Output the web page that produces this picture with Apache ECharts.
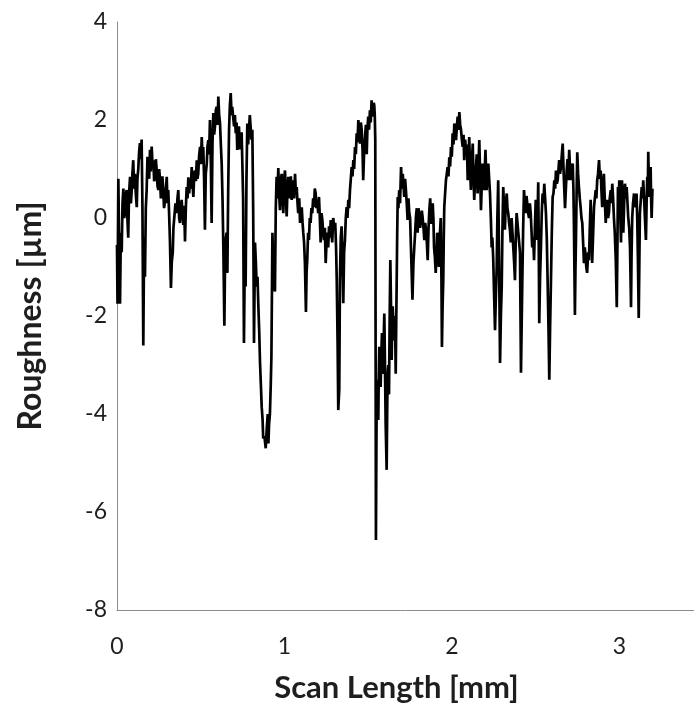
<!DOCTYPE html>
<html>
<head>
<meta charset="utf-8">
<script src="https://cdn.jsdelivr.net/npm/echarts@6.0.0/dist/echarts.min.js"></script>
<style>
  html, body { margin: 0; padding: 0; background: #ffffff; }
  #chart { width: 694px; height: 713px; }
</style>
</head>
<body>
<div id="chart"></div>
<script>
// Surface profile: [scan length (mm), roughness (µm)], split into stretches along the scan
const profile0to05 = [
  [0.000,-0.55],[0.003,-1.75],[0.008,0.80],[0.013,-0.60],[0.018,-1.75],[0.023,-0.30],[0.028,-0.70],[0.033,0.30],
  [0.038,0.60],[0.043,0.00],[0.048,0.10],[0.053,0.50],[0.058,0.57],[0.062,0.00],[0.067,-0.40],[0.072,0.50],
  [0.078,0.84],[0.083,0.30],[0.088,0.57],[0.092,0.90],[0.097,1.18],[0.102,0.60],[0.107,0.90],[0.112,0.50],
  [0.118,0.22],[0.122,0.80],[0.127,1.00],[0.132,1.35],[0.137,1.53],[0.142,1.20],[0.147,1.60],[0.152,0.20],
  [0.157,-2.60],[0.162,-0.40],[0.167,-1.20],[0.172,0.20],[0.177,0.57],[0.182,1.25],[0.187,1.06],[0.192,0.80],
  [0.197,1.39],[0.202,0.95],[0.207,1.46],[0.212,1.10],[0.217,1.18],[0.222,0.75],[0.227,0.84],[0.232,1.20],
  [0.237,0.97],[0.242,0.65],[0.247,0.57],[0.252,1.00],[0.257,0.77],[0.262,0.40],[0.267,0.43],[0.271,0.85],
  [0.276,0.57],[0.281,0.20],[0.287,0.37],[0.292,0.60],[0.297,0.84],[0.301,0.30],[0.306,0.57],[0.311,0.10],
  [0.316,-0.45],[0.322,-1.43],[0.327,-0.90],[0.333,-0.70],[0.337,-0.20],[0.342,-0.22],[0.349,0.30],[0.356,0.10],
  [0.361,0.40],[0.366,0.57],[0.371,0.00],[0.376,-0.10],[0.381,0.20],[0.386,0.37],[0.391,0.10],[0.396,-0.14],
  [0.401,0.25],[0.406,-0.48],[0.411,0.20],[0.416,0.63],[0.421,0.40],[0.426,0.83],[0.431,0.50],[0.436,0.77],
  [0.441,0.60],[0.446,1.04],[0.451,0.70],[0.456,0.43],[0.461,0.90],[0.466,0.97],[0.471,0.75],[0.476,1.18],
  [0.480,0.80],[0.485,0.90],[0.490,1.25]
];
const profile05to10 = [
  [0.496,1.45],[0.501,1.10],[0.506,1.65],[0.510,1.30],[0.515,1.45],[0.520,0.80],[0.525,-0.24],[0.530,0.90],
  [0.536,1.11],[0.540,1.45],[0.545,1.59],[0.550,1.30],[0.555,2.00],[0.560,1.20],[0.565,-0.10],[0.570,1.50],
  [0.575,2.14],[0.580,1.70],[0.585,1.87],[0.590,2.20],[0.595,2.27],[0.600,1.90],[0.605,2.48],[0.610,2.10],
  [0.615,1.94],[0.620,1.50],[0.625,1.11],[0.630,0.40],[0.635,-0.60],[0.641,-2.20],[0.645,-0.90],[0.649,-0.45],
  [0.654,-0.30],[0.659,-1.12],[0.664,0.60],[0.669,1.80],[0.674,2.30],[0.679,2.55],[0.684,2.10],[0.688,2.27],
  [0.694,2.05],[0.699,1.87],[0.704,2.10],[0.709,1.73],[0.714,1.95],[0.718,1.39],[0.723,1.60],[0.728,1.87],
  [0.734,1.40],[0.739,1.59],[0.744,1.75],[0.748,1.18],[0.753,0.40],[0.758,-2.55],[0.763,-0.80],[0.768,-1.40],
  [0.773,0.80],[0.778,1.93],[0.783,1.50],[0.788,1.80],[0.793,2.10],[0.798,2.07],[0.803,1.60],[0.808,1.80],
  [0.813,0.20],[0.818,-2.55],[0.824,-0.50],[0.829,-0.90],[0.834,-1.40],[0.839,-1.20],[0.844,-1.80],[0.849,-2.30],
  [0.854,-2.96],[0.859,-3.40],[0.864,-3.86],[0.869,-4.10],[0.873,-4.50],[0.880,-4.45],[0.888,-4.70],[0.894,-4.30],
  [0.900,-4.00],[0.904,-4.60],[0.908,-4.20],[0.913,-4.00],[0.918,-3.40],[0.922,-2.80],[0.928,-0.30],[0.934,-1.27],
  [0.943,-1.50],[0.948,0.20],[0.953,0.84],[0.958,0.40],[0.963,1.02],[0.968,0.50],[0.973,0.16],[0.978,0.75],
  [0.983,0.90],[0.988,0.40],[0.993,0.10],[0.998,0.80]
];
const profile10to15 = [
  [1.003,0.97],[1.008,0.50],[1.013,0.03],[1.018,0.60],[1.023,0.84],[1.028,0.40],[1.033,0.57],[1.038,0.85],
  [1.043,0.37],[1.048,0.55],[1.052,0.77],[1.058,0.40],[1.063,0.90],[1.068,0.50],[1.073,0.63],[1.078,0.30],
  [1.082,0.10],[1.088,0.40],[1.093,-0.10],[1.098,0.10],[1.103,0.22],[1.108,-0.10],[1.112,-0.30],[1.117,-0.50],
  [1.122,-0.92],[1.128,-1.92],[1.132,-1.10],[1.136,-0.85],[1.141,-0.30],[1.146,-0.45],[1.151,0.00],[1.156,-0.10],
  [1.161,0.20],[1.166,0.10],[1.171,0.40],[1.176,0.22],[1.181,0.60],[1.186,0.50],[1.191,0.20],[1.196,0.37],
  [1.201,0.10],[1.206,0.43],[1.211,0.00],[1.216,-0.50],[1.221,0.10],[1.226,-0.04],[1.231,-0.30],[1.236,-0.45],
  [1.241,-0.20],[1.246,-0.92],[1.251,-0.50],[1.256,-0.30],[1.261,-0.60],[1.266,-0.17],[1.271,-0.40],[1.276,-0.04],
  [1.281,-0.30],[1.285,-0.50],[1.291,0.00],[1.296,-0.17],[1.303,-0.10],[1.308,-0.60],[1.312,-1.27],[1.317,-2.50],
  [1.321,-3.92],[1.327,-3.50],[1.331,-1.27],[1.336,-0.40],[1.341,-0.17],[1.346,-0.80],[1.351,-1.74],[1.356,-0.70],
  [1.361,-0.45],[1.366,0.00],[1.371,0.22],[1.376,0.00],[1.381,0.37],[1.386,0.20],[1.391,0.57],[1.396,0.80],
  [1.401,1.04],[1.406,0.85],[1.411,1.18],[1.416,1.00],[1.421,1.45],[1.426,1.30],[1.431,1.73],[1.436,1.55],
  [1.441,2.00],[1.446,1.70],[1.451,1.52],[1.456,1.95],[1.461,1.80],[1.466,1.40],[1.470,0.77],[1.475,1.30],
  [1.481,1.65],[1.486,1.90],[1.491,1.30],[1.495,1.80]
];
const profile15to20 = [
  [1.500,2.07],[1.505,1.80],[1.510,2.20],[1.515,1.95],[1.520,2.40],[1.525,2.15],[1.530,2.07],[1.533,2.35],
  [1.536,2.30],[1.539,2.10],[1.542,1.60],[1.546,-6.57],[1.549,-4.50],[1.552,-3.30],[1.556,-3.80],[1.560,-4.12],
  [1.563,-3.20],[1.566,-2.63],[1.570,-3.10],[1.574,-3.45],[1.578,-2.80],[1.582,-2.35],[1.586,-2.90],[1.590,-3.18],
  [1.593,-2.40],[1.596,-1.95],[1.600,-3.00],[1.604,-4.20],[1.610,-5.14],[1.613,-4.00],[1.616,-3.18],[1.620,-3.00],
  [1.624,-3.60],[1.628,-2.00],[1.632,-0.86],[1.636,-1.80],[1.640,-2.90],[1.643,-2.20],[1.646,-1.80],[1.650,-2.10],
  [1.655,-2.50],[1.660,-2.00],[1.664,-3.18],[1.667,-2.20],[1.670,-1.27],[1.673,-0.30],[1.676,0.43],[1.680,0.20],
  [1.685,0.57],[1.690,0.30],[1.696,1.04],[1.701,0.60],[1.706,0.90],[1.710,0.70],[1.715,0.43],[1.720,0.80],
  [1.725,0.57],[1.730,0.30],[1.735,-0.04],[1.740,0.40],[1.745,0.10],[1.750,0.00],[1.755,-0.60],[1.764,-1.67],
  [1.770,-0.90],[1.775,-0.60],[1.780,-0.30],[1.785,0.03],[1.790,0.20],[1.795,-0.30],[1.800,0.20],[1.805,0.03],
  [1.810,-0.20],[1.815,-0.24],[1.820,0.15],[1.825,0.00],[1.830,-0.20],[1.835,-0.45],[1.840,-0.10],[1.845,-0.24],
  [1.850,-0.50],[1.855,-0.86],[1.860,-0.20],[1.865,0.16],[1.870,0.40],[1.875,-0.12],[1.880,0.10],[1.885,0.30],
  [1.889,0.00],[1.893,-0.60],[1.898,-0.80],[1.903,-1.12],[1.908,-0.70],[1.912,-0.30],[1.917,-0.60],[1.922,-1.00],
  [1.927,-0.40],[1.933,0.00],[1.937,-1.20],[1.940,-2.63],[1.944,-1.80],[1.948,-1.27],[1.951,-0.40],[1.954,0.22],
  [1.959,0.50],[1.964,0.77],[1.969,0.90],[1.974,1.04],[1.979,0.85],[1.984,1.24],[1.989,1.05],[1.994,1.45],
  [1.999,1.25]
];
const profile20to25 = [
  [2.004,1.73],[2.009,1.50],[2.014,1.93],[2.019,1.70],[2.024,1.59],[2.029,1.85],[2.034,2.07],[2.039,1.80],
  [2.044,2.16],[2.049,1.90],[2.054,1.80],[2.059,1.60],[2.064,1.45],[2.069,1.70],[2.073,1.18],[2.079,1.60],
  [2.084,1.30],[2.089,1.50],[2.094,0.77],[2.099,1.20],[2.103,1.65],[2.108,1.00],[2.113,0.57],[2.118,1.10],
  [2.124,1.52],[2.128,0.90],[2.133,0.37],[2.138,0.80],[2.143,1.04],[2.148,1.30],[2.153,0.50],[2.158,1.00],
  [2.163,1.59],[2.168,0.90],[2.173,0.16],[2.178,0.70],[2.183,1.11],[2.188,0.80],[2.193,0.57],[2.197,1.10],
  [2.200,1.39],[2.204,0.90],[2.207,0.57],[2.212,0.90],[2.217,1.11],[2.222,0.80],[2.227,0.50],[2.232,0.00],
  [2.237,-0.60],[2.241,-0.40],[2.246,-0.80],[2.251,-1.50],[2.257,-2.29],[2.262,-1.60],[2.267,-1.00],[2.271,0.00],
  [2.276,0.77],[2.281,-0.80],[2.287,-2.96],[2.292,-2.00],[2.297,-1.40],[2.301,-0.30],[2.306,0.63],[2.311,0.20],
  [2.316,-0.24],[2.321,0.30],[2.327,0.50],[2.331,0.20],[2.336,0.10],[2.341,-0.10],[2.346,-0.24],[2.351,-0.50],
  [2.356,0.00],[2.361,-0.30],[2.366,-0.60],[2.371,-0.90],[2.376,-1.27],[2.381,-0.40],[2.386,0.10],[2.391,-0.10],
  [2.396,-0.30],[2.401,-0.50],[2.406,-0.70],[2.412,-3.16],[2.416,-2.20],[2.420,-1.27],[2.425,-0.20],[2.430,0.57],
  [2.435,0.30],[2.440,0.10],[2.445,0.45],[2.450,0.43],[2.455,0.10],[2.460,0.00],[2.465,0.30],[2.470,0.10],
  [2.474,-0.20],[2.479,-0.60],[2.485,-0.40],[2.490,-0.86],[2.495,-0.20]
];
const profile25to32 = [
  [2.500,0.37],[2.505,0.00],[2.509,-0.45],[2.512,0.20],[2.515,0.73],[2.518,-0.50],[2.521,-2.15],[2.526,-1.20],
  [2.531,-0.60],[2.536,0.10],[2.541,0.50],[2.546,0.30],[2.551,0.70],[2.556,0.40],[2.561,0.10],[2.566,-0.40],
  [2.571,-1.27],[2.576,-2.20],[2.581,-3.30],[2.586,-2.20],[2.591,-1.27],[2.596,-0.30],[2.601,0.43],[2.606,0.50],
  [2.611,0.77],[2.616,0.60],[2.621,0.97],[2.626,0.70],[2.631,0.77],[2.636,1.00],[2.640,1.18],[2.645,0.90],
  [2.651,1.04],[2.656,1.30],[2.661,1.52],[2.668,0.80],[2.675,0.20],[2.680,0.60],[2.685,0.97],[2.690,1.20],
  [2.694,0.77],[2.697,1.10],[2.700,1.39],[2.705,1.00],[2.710,0.77],[2.715,1.00],[2.721,1.11],[2.725,0.60],
  [2.728,-0.10],[2.734,-1.98],[2.737,-1.10],[2.740,-0.50],[2.744,0.50],[2.748,1.34],[2.753,0.90],[2.758,0.63],
  [2.763,0.40],[2.768,0.22],[2.773,0.00],[2.778,-0.10],[2.783,-0.50],[2.788,-0.92],[2.793,-0.60],[2.798,-0.80],
  [2.802,-1.00],[2.807,-1.12],[2.813,-0.70],[2.818,-0.86],[2.823,-0.20],[2.828,0.37],[2.833,-0.30],[2.837,-0.92],
  [2.843,-0.30],[2.848,0.22],[2.853,0.40],[2.858,0.57],[2.862,0.40],[2.867,0.77],[2.872,0.90],[2.878,1.18],
  [2.883,0.80],[2.888,0.97],[2.892,0.60],[2.897,0.22],[2.902,0.60],[2.907,0.90],[2.912,0.40],[2.918,-0.10],
  [2.922,0.20],[2.927,0.37],[2.932,0.00],[2.937,0.10],[2.942,0.40],[2.948,0.57],[2.952,0.30],[2.957,0.70],
  [2.962,0.40],[2.967,0.00],[2.972,-0.30],[2.978,-0.86],[2.984,-1.82],[2.988,-0.50],[2.991,0.63],[2.995,0.30],
  [2.999,0.77],[3.004,0.20],[3.009,-0.50],[3.012,0.20],[3.015,0.77],[3.019,0.30],[3.023,-0.30],[3.028,0.30],
  [3.033,0.70],[3.038,0.40],[3.043,0.63],[3.048,0.30],[3.052,0.03],[3.058,-0.20],[3.063,-0.60],[3.069,-1.82],
  [3.072,-0.80],[3.076,0.00],[3.081,0.30],[3.087,0.50],[3.092,0.30],[3.097,0.22],[3.102,0.50],[3.106,0.00],
  [3.110,-0.80],[3.115,-2.04],[3.119,-0.80],[3.122,0.10],[3.128,0.40],[3.133,0.63],[3.138,0.40],[3.142,0.77],
  [3.147,0.40],[3.152,0.00],[3.158,-0.45],[3.162,0.30],[3.166,0.84],[3.169,0.50],[3.172,1.35],[3.175,0.80],
  [3.178,0.43],[3.182,0.70],[3.186,1.04],[3.189,0.40],[3.192,0.00],[3.197,0.60]
];

// Axis ticks and extent
const xTicks = [0, 1, 2, 3];
const xMax = 3.445;
const yTicks = [-8, -6, -4, -2, 0, 2, 4];

const xTitle = 'Scan Length [mm]';
const yTitle = 'Roughness [µm]';

const profile = [].concat(profile0to05, profile05to10, profile10to15,
                          profile15to20, profile20to25, profile25to32);

const FONT = 'Lato, "Open Sans", sans-serif';
const AXIS_GREY = '#8c8c8c';
const LABEL_COLOR = '#1e1e1e';

const chart = echarts.init(document.getElementById('chart'), null, { renderer: 'canvas' });

chart.setOption({
  animation: false,
  backgroundColor: '#ffffff',
  grid: { left: 117, top: 22, right: 0, bottom: 103, outerBoundsMode: 'none' },
  xAxis: {
    type: 'value',
    min: xTicks[0],
    max: xMax,
    interval: 1,
    name: xTitle,
    nameLocation: 'middle',
    nameGap: 62,
    nameTextStyle: {
      fontFamily: FONT, fontSize: 31, fontWeight: 'bold', color: LABEL_COLOR,
      padding: [0, 18, 0, 0]
    },
    axisLine: { show: true, onZero: false, lineStyle: { color: AXIS_GREY, width: 1 } },
    axisTick: { show: false },
    splitLine: { show: false },
    axisLabel: {
      fontFamily: FONT, fontSize: 23, color: LABEL_COLOR, margin: 25,
      showMaxLabel: false,
      formatter: v => (xTicks.indexOf(v) >= 0 ? String(v) : '')
    }
  },
  yAxis: {
    type: 'value',
    min: yTicks[0],
    max: yTicks[yTicks.length - 1],
    interval: 2,
    name: yTitle,
    nameLocation: 'middle',
    nameGap: 70,
    nameRotate: 90,
    nameTextStyle: { fontFamily: FONT, fontSize: 32, fontWeight: 'bold', color: LABEL_COLOR },
    axisLine: { show: true, onZero: false, lineStyle: { color: AXIS_GREY, width: 1 } },
    axisTick: { show: false },
    splitLine: { show: false },
    axisLabel: { fontFamily: FONT, fontSize: 23, color: LABEL_COLOR, margin: 10 }
  },
  series: [{
    type: 'line',
    data: profile,
    showSymbol: false,
    symbol: 'none',
    lineStyle: { color: '#000000', width: 2.7 },
    clip: true
  }]
});
</script>
</body>
</html>
